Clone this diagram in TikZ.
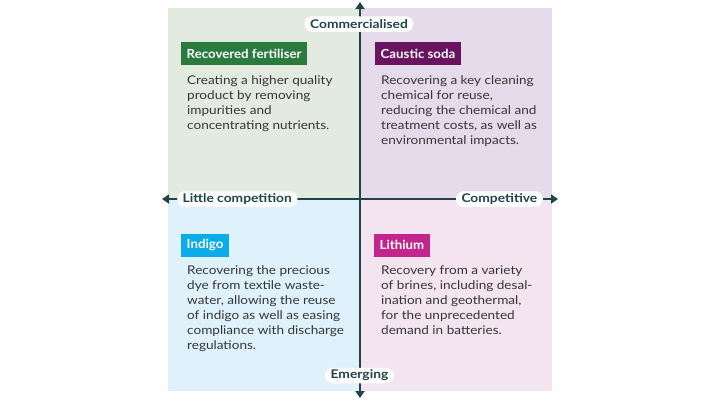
\documentclass[tikz,border=0pt]{standalone}
\usepackage{fontspec}
\setmainfont{Lato}
\newfontfamily\bodyfont{Lato}[FakeStretch=1.13]
\newfontfamily\titlefont{Lato}[FakeStretch=1.06]
\newfontfamily\pillfont{Lato}[FakeStretch=1.15]
\usetikzlibrary{arrows.meta}
\definecolor{bgTL}{HTML}{E3EBE1}
\definecolor{bgTR}{HTML}{E6DBEA}
\definecolor{bgBL}{HTML}{DFF1FB}
\definecolor{bgBR}{HTML}{F3E4EF}
\definecolor{cGreen}{HTML}{2B7B3F}
\definecolor{cPurple}{HTML}{6A1461}
\definecolor{cCyan}{HTML}{0AADE8}
\definecolor{cMagenta}{HTML}{C2258C}
\definecolor{axisc}{HTML}{1F4547}
\definecolor{bodyc}{HTML}{363636}
\tikzset{
  titlebox/.style={anchor=west, inner xsep=5.5pt, inner ysep=0pt, minimum height=23pt,
    text=white, font=\titlefont\fontsize{12.5}{14}\selectfont\bfseries},
  bodytext/.style={anchor=north west, inner sep=0pt, align=left, text=bodyc,
    font=\bodyfont\fontsize{12}{15}\selectfont},
  pill/.style={fill=white, rounded corners=7.5pt, inner xsep=5.5pt, inner ysep=0pt,
    minimum height=15.5pt, text=axisc, font=\pillfont\fontsize{12}{13}\selectfont\bfseries},
  axisline/.style={draw=axisc, line width=2pt, -{Triangle[width=9pt,length=7pt]}},
}
\begin{document}
\begin{tikzpicture}[x=1pt, y=-1pt]
\useasboundingbox (0,0) rectangle (720,400);
% quadrants
\path[fill=bgTL] (168,8) rectangle (360,199);
\path[fill=bgTR] (360,8) rectangle (552,199);
\path[fill=bgBL] (168,199) rectangle (360,391);
\path[fill=bgBR] (360,199) rectangle (552,391);
% axes
\coordinate (c) at (360,199);
\coordinate (top) at (360,2);
\coordinate (bot) at (360,398);
\coordinate (lft) at (162,199);
\coordinate (rgt) at (558,199);
\draw[axisline] (c) -- (top);
\draw[axisline] (c) -- (bot);
\draw[axisline] (c) -- (lft);
\draw[axisline] (c) -- (rgt);
% axis labels
\node[pill] (comm) at (359,24) {Commercialised};
\node[pill] (emer) at (359.5,375.5) {Emerging};
\node[pill, anchor=west] (little) at (177,199) {Little competition};
\node[pill, anchor=east] (compet) at (543,199) {Competitive};
% titles
\node[titlebox, fill=cGreen] (fert) at (181,53.5) {Recovered fertiliser};
\node[titlebox, fill=cPurple] (caus) at (375,53.5) {Caustic soda};
\node[titlebox, fill=cCyan] (indi) at (181,245) {Indigo};
\node[titlebox, fill=cMagenta] (lith) at (374,245) {Lithium};
% bodies
\node[bodytext] (fertb) at (187,75) {Creating a higher quality\\product by removing\\impurities and\\concentrating nutrients.};
\node[bodytext] (causb) at (381,75) {Recovering a key cleaning\\chemical for reuse,\\reducing the chemical and\\treatment costs, as well as\\environmental impacts.};
\node[bodytext] (indib) at (187,265.5) {Recovering the precious\\dye from textile waste-\\water, allowing the reuse\\of indigo as well as easing\\compliance with discharge\\regulations.};
\node[bodytext] (lithb) at (381,265.5) {Recovery from a variety\\of brines, including desal-\\ination and geothermal,\\for the unprecedented\\demand in batteries.};
\end{tikzpicture}
\end{document}
